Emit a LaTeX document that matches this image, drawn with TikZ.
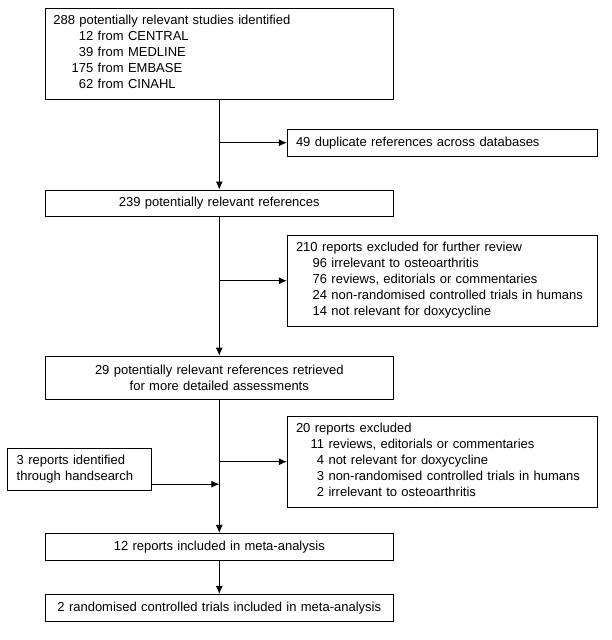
\documentclass[tikz,border=0pt]{standalone}
\usepackage{fontspec}
\setmainfont{Liberation Sans}
\usetikzlibrary{arrows.meta}
\begin{document}
\begin{tikzpicture}[x=1pt,y=-1pt,>={Latex[length=8pt,width=7pt]},
  box/.style={draw,line width=0.9pt,inner xsep=0pt,inner ysep=0pt,font=\fontsize{13}{16}\selectfont},
  mainbox/.style={box,minimum width=347.3pt,text width=332pt,align=center},
  sidebox/.style={box,minimum width=310.4pt,text width=293pt,align=left},
  flow/.style={line width=0.9pt}]
\useasboundingbox (0,0) rectangle (611,640);

\node[mainbox,align=left,minimum height=90.7pt] (found) at (219.3,53.7) {%
  \begin{tabular}{@{\hspace{18.4pt}}r@{ }l}
  \multicolumn{2}{@{}l}{288 potentially relevant studies identified}\\
  12 & from CENTRAL\\
  39 & from MEDLINE\\
  175 & from EMBASE\\
  62 & from CINAHL
  \end{tabular}};
\node[sidebox,minimum height=26.7pt] (dupl) at (442.5,142.7) {49 duplicate references across databases};
\node[mainbox,minimum height=26pt] (refs) at (219.3,203) {239 potentially relevant references};
\node[sidebox,minimum height=90.7pt] (excla) at (442.5,280.7) {%
  \begin{tabular}{@{\hspace{16.7pt}}r@{ }l}
  \multicolumn{2}{@{}l}{210 reports excluded for further review}\\
  96 & irrelevant to osteoarthritis\\
  76 & reviews, editorials or commentaries\\
  24 & non-randomised controlled trials in humans\\
  14 & not relevant for doxycycline
  \end{tabular}};
\node[mainbox,minimum height=43.3pt] (retr) at (219.3,377.7) {29 potentially relevant references retrieved\\for more detailed assessments};
\node[sidebox,minimum height=91.3pt] (exclb) at (442.5,461.7) {%
  \begin{tabular}{@{\hspace{14.7pt}}r@{ }l}
  \multicolumn{2}{@{}l}{20 reports excluded}\\
  11 & reviews, editorials or commentaries\\
  4 & not relevant for doxycycline\\
  3 & non-randomised controlled trials in humans\\
  2 & irrelevant to osteoarthritis
  \end{tabular}};
\node[box,minimum width=144.4pt,text width=125.6pt,align=left,minimum height=41.7pt] (hand) at (79.5,469.2) {3 reports identified\\through handsearch};
\node[mainbox,minimum height=26.7pt] (incl) at (219.3,546.7) {12 reports included in meta-analysis};
\node[mainbox,minimum height=26.7pt] (rct) at (219.3,607.7) {2 randomised controlled trials included in meta-analysis};

% main line and side branches
\draw[flow,->] (found) -- (refs);
\draw[flow,->] (dupl.west -| found.south) -- (dupl);
\draw[flow,->] (refs) -- (retr);
\draw[flow,->] (excla.west -| refs.south) -- (excla);
\draw[flow,->] (retr) -- (incl);
\draw[flow,->] (exclb.west -| retr.south) -- (exclb);
\draw[flow,->] ([yshift=-15pt]hand.east) -- ([yshift=-15pt]hand.east -| retr.south);
\draw[flow,->] (incl) -- (rct);
\end{tikzpicture}
\end{document}
